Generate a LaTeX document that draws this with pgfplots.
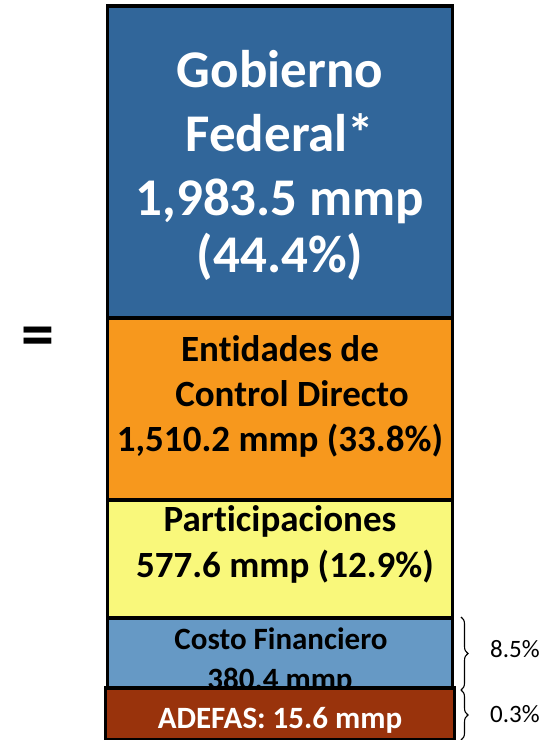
\documentclass[border=0pt]{standalone}
\usepackage{pgfplots}
\pgfplotsset{compat=1.18}
\usepackage{fontspec}
\setmainfont{Carlito}[Ligatures={CommonOff,ContextualOff}]
\usetikzlibrary{decorations.pathreplacing}
\definecolor{cGob}{HTML}{31669A}
\definecolor{cEnt}{HTML}{F7981D}
\definecolor{cPar}{HTML}{F9F87B}
\definecolor{cCos}{HTML}{6699C5}
\definecolor{cAde}{HTML}{99330C}
\pgfplotsset{barbase/.style={
  width=554pt, height=740pt, scale only axis,
  at={(0pt,0pt)}, anchor=south west,
  xmin=0, xmax=554, ymin=2, ymax=742,
  hide axis, ybar stacked, clip=true}}
\newcommand{\fB}[1]{\fontsize{#1}{#1}\selectfont\bfseries}
\begin{document}
\begin{tikzpicture}
\useasboundingbox (0pt,0pt) rectangle (554pt,740pt);
% segment heights as drawn in the picture (pixels); the labelled values are in the texts
\begin{axis}[barbase]
\addplot[draw=black, line width=3.2pt, fill=cAde, bar width=349] coordinates {(280,54)};
\addplot[draw=black, line width=3.2pt, fill=cCos, bar width=345] coordinates {(280,70)};
\addplot[draw=black, line width=3.2pt, fill=cPar, bar width=345] coordinates {(280,118)};
\addplot[draw=black, line width=3.2pt, fill=cEnt, bar width=345] coordinates {(280,182)};
\addplot[draw=black, line width=3.2pt, fill=cGob, bar width=345] coordinates {(280,312)};
\end{axis}
\begin{scope}[x=1pt, y=1pt, yshift=-2pt]
\node[inner sep=0pt, anchor=base, text=white, font=\fB{53}] at (280,654) {Gobierno};
\node[inner sep=0pt, anchor=base, text=white, font=\fB{53}] at (280,590) {Federal*};
\node[inner sep=0pt, anchor=base, text=white, font=\fB{53}] at (280,526) {1,983.5 mmp};
\node[inner sep=0pt, anchor=base, text=white, font=\fB{53}] at (280,469) {(44.4\%)};
\node[inner sep=0pt, anchor=base, font=\fB{37}] at (280,380) {Ent\kern0pt{}idades de};
\node[inner sep=0pt, anchor=base, font=\fB{37}] at (292,335) {Control Directo};
\node[inner sep=0pt, anchor=base, font=\fB{37}] at (280,290) {1,510.2 mmp (33.8\%)};
\node[inner sep=0pt, anchor=base, font=\fB{37}] at (280,210) {Part\kern0pt{}icipaciones};
\node[inner sep=0pt, anchor=base, font=\fB{37}] at (285,164) {577.6 mmp (12.9\%)};
\node[inner sep=0pt, anchor=base, font=\fB{31}] at (281,92) {Costo Financiero};
\node[inner sep=0pt, anchor=base, font=\fB{31}] at (280,52) {380.4 mmp};
\node[inner sep=0pt, anchor=center, font=\fB{66}] at (38,400) {=};
\end{scope}
% the ADEFAS bar is drawn again on top, as in the reference
\begin{axis}[barbase]
\addplot[draw=black, line width=3.2pt, fill=cAde, bar width=349] coordinates {(280,54)};
\end{axis}
\begin{scope}[x=1pt, y=1pt, yshift=-2pt]
\node[inner sep=0pt, anchor=base, text=white, font=\fB{31}] at (280,14) {ADEFAS: 15.6 mmp};
\node[inner sep=0pt, anchor=base west, font=\fontsize{25}{25}\selectfont] at (490,84) {8.5\%};
\node[inner sep=0pt, anchor=base west, font=\fontsize{25}{25}\selectfont] at (490,19) {0.3\%};
\draw[line width=1.1pt, decorate, decoration={brace, amplitude=7pt}] (461,125) -- (461,52);
\draw[line width=1.1pt, decorate, decoration={brace, amplitude=7pt}] (461,52) -- (461,2);
\end{scope}
\end{tikzpicture}
\end{document}
